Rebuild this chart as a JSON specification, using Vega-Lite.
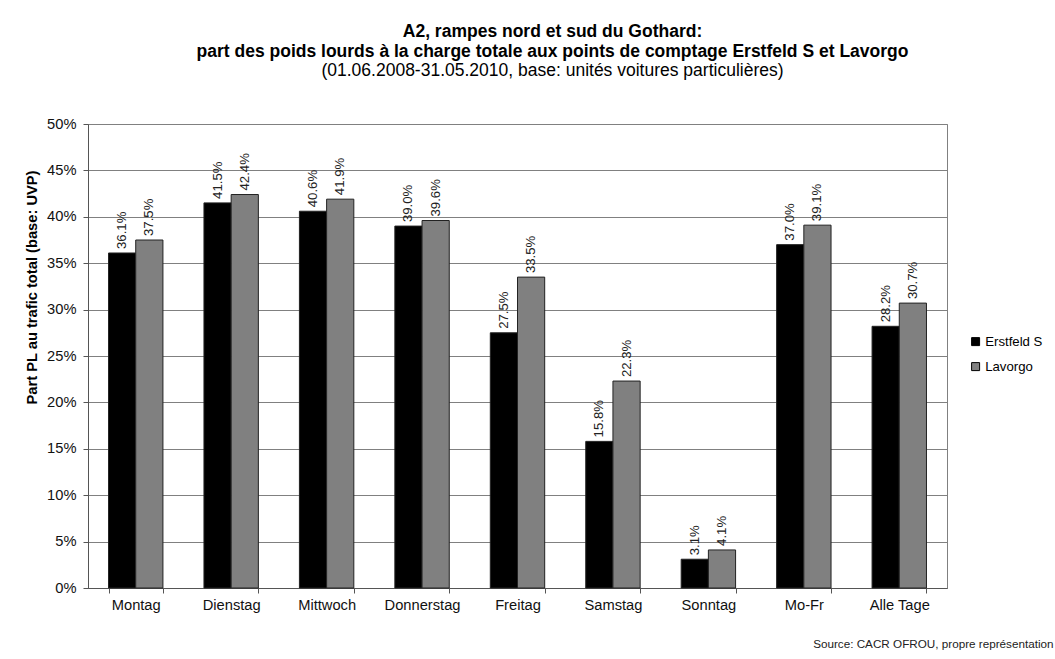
{
  "$schema": "https://vega.github.io/schema/vega-lite/v6.json",
  "width": 859,
  "height": 464,
  "autosize": {"type": "none"},
  "padding": {"left": 88, "top": 124, "right": 108, "bottom": 71},
  "background": "white",
  "config": {
    "font": "Liberation Sans",
    "view": {"stroke": "#808080", "strokeWidth": 1}
  },
  "title": {
    "text": ["A2, rampes nord et sud du Gothard:", "part des poids lourds à la charge totale aux points de comptage Erstfeld S et Lavorgo"],
    "subtitle": "(01.06.2008-31.05.2010, base: unités voitures particulières)",
    "anchor": "middle",
    "frame": "group",
    "dx": 35,
    "font": "Liberation Sans",
    "fontSize": 17.5,
    "fontWeight": "bold",
    "color": "#000000",
    "lineHeight": 20,
    "subtitleFont": "Liberation Sans",
    "subtitleFontSize": 17.5,
    "subtitleColor": "#000000",
    "subtitleLineHeight": 20,
    "subtitlePadding": 1,
    "offset": 37
  },
  "data": {
    "values": [
      {"jour": "Montag", "site": "Erstfeld S", "part": 0.361},
      {"jour": "Montag", "site": "Lavorgo", "part": 0.375},
      {"jour": "Dienstag", "site": "Erstfeld S", "part": 0.415},
      {"jour": "Dienstag", "site": "Lavorgo", "part": 0.424},
      {"jour": "Mittwoch", "site": "Erstfeld S", "part": 0.406},
      {"jour": "Mittwoch", "site": "Lavorgo", "part": 0.419},
      {"jour": "Donnerstag", "site": "Erstfeld S", "part": 0.390},
      {"jour": "Donnerstag", "site": "Lavorgo", "part": 0.396},
      {"jour": "Freitag", "site": "Erstfeld S", "part": 0.275},
      {"jour": "Freitag", "site": "Lavorgo", "part": 0.335},
      {"jour": "Samstag", "site": "Erstfeld S", "part": 0.158},
      {"jour": "Samstag", "site": "Lavorgo", "part": 0.223},
      {"jour": "Sonntag", "site": "Erstfeld S", "part": 0.031},
      {"jour": "Sonntag", "site": "Lavorgo", "part": 0.041},
      {"jour": "Mo-Fr", "site": "Erstfeld S", "part": 0.370},
      {"jour": "Mo-Fr", "site": "Lavorgo", "part": 0.391},
      {"jour": "Alle Tage", "site": "Erstfeld S", "part": 0.282},
      {"jour": "Alle Tage", "site": "Lavorgo", "part": 0.307}
    ]
  },
  "encoding": {
    "x": {
      "field": "jour",
      "type": "nominal",
      "sort": null,
      "scale": {"paddingInner": 0.43, "paddingOuter": 0.215},
      "axis": {
        "title": "Source: CACR OFROU,  propre représentation",
        "titleFont": "Liberation Sans",
        "titleFontSize": 11.7,
        "titleFontWeight": "normal",
        "titleColor": "#222222",
        "titleAlign": "right",
        "titleAnchor": null,
        "titleBaseline": "middle",
        "titleX": 965,
        "titleY": 55,
        "labelAngle": 0,
        "labelFontSize": 14.7,
        "labelColor": "#111111",
        "labelPadding": 4,
        "tickBand": "extent",
        "tickSize": 5,
        "tickColor": "#555555",
        "domainColor": "#555555",
        "grid": false
      }
    },
    "xOffset": {
      "field": "site",
      "type": "nominal",
      "sort": ["Erstfeld S", "Lavorgo"],
      "scale": {"paddingInner": 0, "paddingOuter": 0}
    },
    "y": {
      "field": "part",
      "type": "quantitative",
      "scale": {"domain": [0, 0.5]},
      "axis": {
        "title": "Part PL au trafic total (base: UVP)",
        "titleFontSize": 14.7,
        "titleFontWeight": "bold",
        "titleColor": "#000000",
        "titleAngle": 270,
        "titleAlign": "center",
        "titleBaseline": "middle",
        "titleX": -56,
        "titleY": 163,
        "values": [0, 0.05, 0.1, 0.15, 0.2, 0.25, 0.3, 0.35, 0.4, 0.45, 0.5],
        "format": ".0%",
        "labelFontSize": 14.7,
        "labelColor": "#111111",
        "labelPadding": 7,
        "tickSize": 5,
        "tickColor": "#555555",
        "domainColor": "#555555",
        "grid": true,
        "gridColor": "#808080",
        "gridOpacity": 1
      }
    }
  },
  "layer": [
    {
      "mark": {"type": "bar", "stroke": "#222222", "strokeWidth": 1},
      "encoding": {
        "color": {
          "field": "site",
          "type": "nominal",
          "scale": {"domain": ["Erstfeld S", "Lavorgo"], "range": ["#000000", "#808080"]},
          "legend": {
            "title": null,
            "orient": "none",
            "legendX": 881,
            "legendY": 211,
            "symbolType": "square",
            "symbolSize": 64,
            "symbolStrokeColor": "#000000",
            "symbolStrokeWidth": 1,
            "symbolOpacity": 1,
            "labelFontSize": 13.2,
            "labelColor": "#000000",
            "labelOffset": 3,
            "rowPadding": 11
          }
        }
      }
    },
    {
      "mark": {
        "type": "text",
        "angle": -90,
        "align": "left",
        "baseline": "middle",
        "dx": 4,
        "fontSize": 13.2,
        "color": "#222222"
      },
      "encoding": {
        "text": {"field": "part", "type": "quantitative", "format": ".1%"}
      }
    }
  ]
}
